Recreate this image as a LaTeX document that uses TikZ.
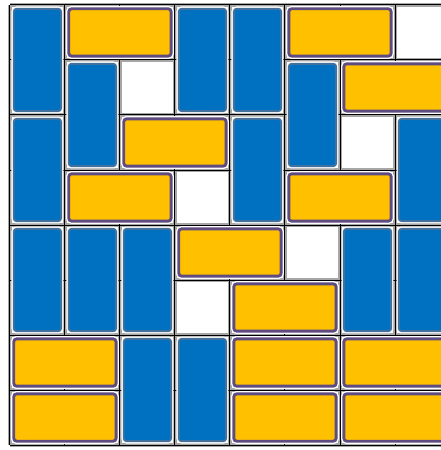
\documentclass[tikz,border=0pt]{standalone}
\usepackage{tikz}

\definecolor{domblue}{HTML}{0070C0}
\definecolor{domblueline}{HTML}{41719C}
\definecolor{domyellow}{HTML}{FFC000}
\definecolor{dompurple}{HTML}{5E4B80}

\tikzset{
  gridback/.style={line width=2.2pt,gray!70},
  gridfront/.style={line width=0.5pt,black},
  vdom/.style={fill=domblue,draw=domblueline,line width=1pt,rounded corners=1.5pt,
    preaction={draw=white,line width=2.4pt}},
  hdom/.style={fill=domyellow,draw=dompurple,line width=1.5pt,rounded corners=1.5pt,
    preaction={draw=white,line width=2.9pt}}
}

\begin{document}
\begin{tikzpicture}[x=1cm,y=-1cm]
    \useasboundingbox (-0.18,-0.09) rectangle (7.82,8.09);
    \foreach \i in {0,...,8} {
    \draw[gridback] (\i,0) -- (\i,8);
    \draw[gridback] (0,\i) -- (8,\i);
    }
    \foreach \i in {0,...,8} {
    \draw[gridfront] (\i,0) -- (\i,8);
    \draw[gridfront] (0,\i) -- (8,\i);
    }
    \foreach \c/\r in {0/0,3/0,4/0,1/1,5/1,0/2,4/2,7/2,0/4,1/4,2/4,6/4,7/4,2/6,3/6}
    \draw[vdom] (\c+0.07,\r+0.07) rectangle (\c+0.93,\r+1.93);
    \foreach \c/\r in {1/0,5/0,6/1,2/2,1/3,5/3,3/4,4/5,0/6,4/6,6/6,0/7,4/7,6/7}
    \draw[hdom] (\c+0.07,\r+0.07) rectangle (\c+1.93,\r+0.93);
  \end{tikzpicture}
\end{document}
